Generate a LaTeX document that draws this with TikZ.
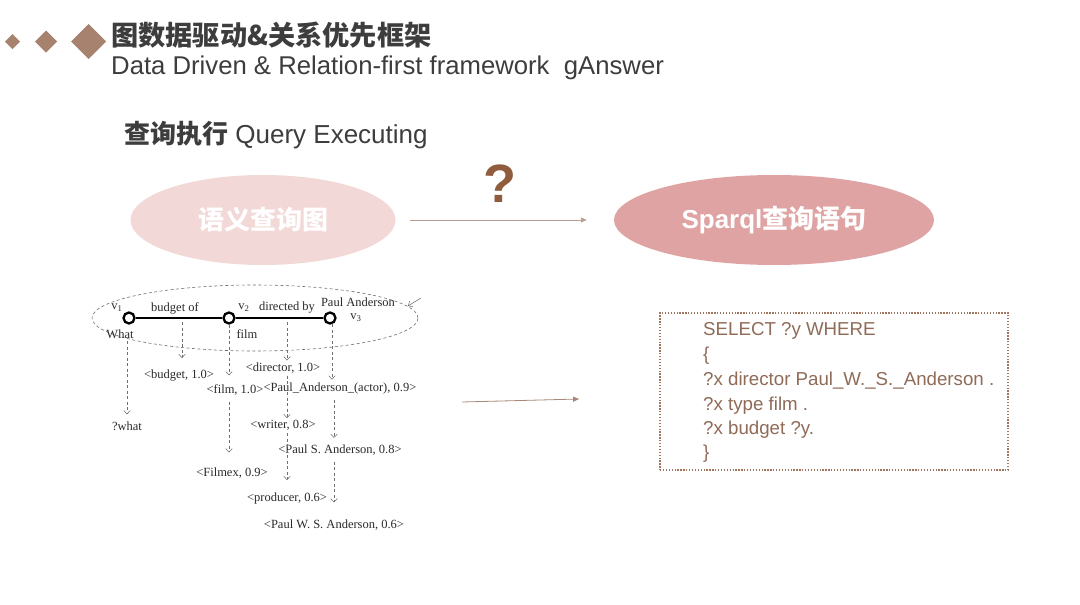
\documentclass[tikz,border=0pt]{standalone}
\usepackage{fontspec}
\setmainfont{Liberation Sans}
\newfontfamily\cjk{Noto Sans CJK SC}
\newfontfamily\serif{Liberation Serif}
\usetikzlibrary{arrows.meta,shapes.geometric}
\definecolor{dia}{HTML}{A7826F}
\definecolor{titlec}{HTML}{3D3D3D}
\definecolor{qmark}{HTML}{8F5C3E}
\definecolor{ellA}{HTML}{F2D8D6}
\definecolor{ellB}{HTML}{DFA3A3}
\definecolor{arrc}{HTML}{A88878}
\definecolor{boxc}{HTML}{A0765E}
\definecolor{sqtext}{HTML}{8F6B58}
\definecolor{gtext}{HTML}{2A2A2A}
\definecolor{dgray}{HTML}{707070}
\begin{document}
\begin{tikzpicture}[x=1pt,y=-1pt,
  gtxt/.style={font=\serif\fontsize{12.5}{14}\selectfont, text=gtext, inner sep=0pt},
  dsh/.style={draw=dgray, line width=0.55pt, dash pattern=on 3pt off 2.5pt, -{Straight Barb[length=3.5pt,width=6.5pt]}},
  gnode/.style={circle, draw=black, line width=2.3pt, fill=white, minimum size=11pt, inner sep=0pt},
  sq/.style={font=\fontsize{18.7}{20}\selectfont, text=sqtext, anchor=west, inner sep=0pt},
  bigell/.style={ellipse, inner sep=0pt, minimum height=90pt, text=white},
  conn/.style={draw=arrc, line width=0.9pt, -{Triangle[length=6pt,width=5pt]}}
]
\useasboundingbox (0,0) rectangle (1080,605);
\fill[white] (0,0) rectangle (1080,605);

% diamonds
\fill[dia] (5,41.5) -- (12.5,34) -- (20,41.5) -- (12.5,49) -- cycle;
\fill[dia] (35,41.5) -- (46,30.5) -- (57,41.5) -- (46,52.5) -- cycle;
\fill[dia] (71,41.5) -- (88.5,24) -- (106,41.5) -- (88.5,59) -- cycle;

% titles
\node[anchor=west, inner sep=0pt, text=titlec, font=\cjk\bfseries\fontsize{27.2}{30}\selectfont] (t1) at (111,35) {图数据驱动\&关系优先框架};
\node[anchor=west, inner sep=0pt, text=titlec, font=\fontsize{25.7}{28}\selectfont] (t2) at (111,68) {Data Driven \& Relation-first framework\ \ gAnswer};
\node[anchor=west, inner sep=0pt, text=titlec, font=\fontsize{26}{28}\selectfont] (t3) at (124,135) {{\cjk\bfseries 查询执行} Query Executing};

% question mark
\node[inner sep=0pt, text=qmark, font=\bfseries\fontsize{54}{54}\selectfont] (q) at (500,184) {?};

% ellipses
\node[bigell, fill=ellA, minimum width=265pt, font=\cjk\bfseries\fontsize{26}{28}\selectfont] (sg) at (263,220) {语义查询图};
\node[bigell, fill=ellB, minimum width=320pt, font=\bfseries\fontsize{26}{28}\selectfont] (sp) at (774,220) {Sparql{\cjk 查询语句}};
\draw[conn, draw=arrc!80] ([xshift=14pt]sg.east) -- ([xshift=-27pt]sp.west);

% query graph
\node[ellipse, draw=dgray, line width=0.6pt, dash pattern=on 3pt off 2.5pt, minimum width=326pt, minimum height=66pt, inner sep=0pt] (ell) at (255,318) {};
\node[gnode] (n1) at (129,318) {};
\node[gnode] (n2) at (229,318) {};
\node[gnode] (n3) at (330,318) {};
\draw[line width=2.8pt] (n1) -- (n2) -- (n3);

\node[gtxt] (lv1) at (117,308) {v\textsubscript{1}};
\node[gtxt] (lbo) at (175,308) {budget of};
\node[gtxt] (lv2) at (244,308) {v\textsubscript{2}};
\node[gtxt] (ldb) at (287,308) {directed by};
\node[gtxt] (lpa) at (358,302) {Paul Anderson};
\node[gtxt] (lv3) at (356,318) {v\textsubscript{3}};
\node[gtxt] (lwh) at (120,334) {What};
\node[gtxt] (lfi) at (247,334) {film};

\coordinate (pa1) at (421,298);
\coordinate (pa2) at (408,306);
\draw[draw=dgray, line width=0.55pt, -{Straight Barb[length=3.5pt,width=6.5pt]}] (pa1) -- (pa2);

% candidate labels
\node[gtxt] (rwhat) at (127,426) {?what};
\node[gtxt] (rbud) at (179,376) {<budget, 1.0>};
\node[gtxt] (rfilm) at (235,390) {<film, 1.0>};
\node[gtxt] (rdir) at (283,368) {<director, 1.0>};
\node[gtxt] (ract) at (340,388) {<Paul\_Anderson\_(actor), 0.9>};
\node[gtxt] (rfmx) at (232,473) {<Filmex, 0.9>};
\node[gtxt] (rwri) at (283,425) {<writer, 0.8>};
\node[gtxt] (rpsa) at (340,450) {<Paul S. Anderson, 0.8>};
\node[gtxt] (rpro) at (287,498) {<producer, 0.6>};
\node[gtxt] (rpwsa) at (334,525) {<Paul W. S. Anderson, 0.6>};

% dashed candidate arrows
\coordinate (s1) at (127,341);
\coordinate (s2) at (182,322);
\coordinate (s3) at (287,322);
\coordinate (s4) at (332,324);
\draw[dsh, shorten >=7pt] (s1) -- (s1 |- rwhat.north);
\draw[dsh, shorten >=12pt] (s2) -- (s2 |- rbud.north);
\draw[dsh, shorten >=9pt] (n2.south) -- (n2.south |- rfilm.north);
\draw[dsh, shorten <=6pt, shorten >=15pt] ([xshift=-6pt]rfilm.south) -- ([xshift=-6pt]rfilm.south |- rfmx.north);
\draw[dsh, shorten >=2pt] (s3) -- (s3 |- rdir.north);
\draw[dsh, shorten <=2pt, shorten >=1.5pt] ([xshift=4pt]rdir.south) -- ([xshift=4pt]rdir.south |- rwri.north);
\draw[dsh, shorten <=3pt, shorten >=12pt] ([xshift=4pt]rwri.south) -- ([xshift=4pt]rwri.south |- rpro.north);
\draw[dsh, shorten >=2.5pt] (s4) -- (s4 |- ract.north);
\draw[dsh, shorten <=6pt, shorten >=6.5pt] ([xshift=-6pt]ract.south) -- ([xshift=-6pt]ract.south |- rpsa.north);
\draw[dsh, shorten <=6pt, shorten >=17pt] ([xshift=-6pt]rpsa.south) -- ([xshift=-6pt]rpsa.south |- rpwsa.north);

% sparql box
\node[draw=boxc, line width=1.7pt, dash pattern=on 1.3pt off 1.6pt, minimum width=348pt, minimum height=157pt, inner sep=0pt] (box) at (834,391.5) {};
\node[sq] (q1) at (703,331) {SELECT ?y WHERE};
\node[sq] (q2) at (703,356) {\{};
\node[sq] (q3) at (703,381) {?x director Paul\_W.\_S.\_Anderson .};
\node[sq] (q4) at (703,406) {?x type film .};
\node[sq] (q5) at (703,430) {?x budget ?y.};
\node[sq] (q6) at (703,454) {\}};

% middle arrow
\coordinate (ma) at (462,402);
\coordinate (mb) at ([xshift=-80pt]box.west);
\draw[conn, line width=0.8pt, draw=arrc] (ma) -- (mb |- 0,399);
\end{tikzpicture}
\end{document}
